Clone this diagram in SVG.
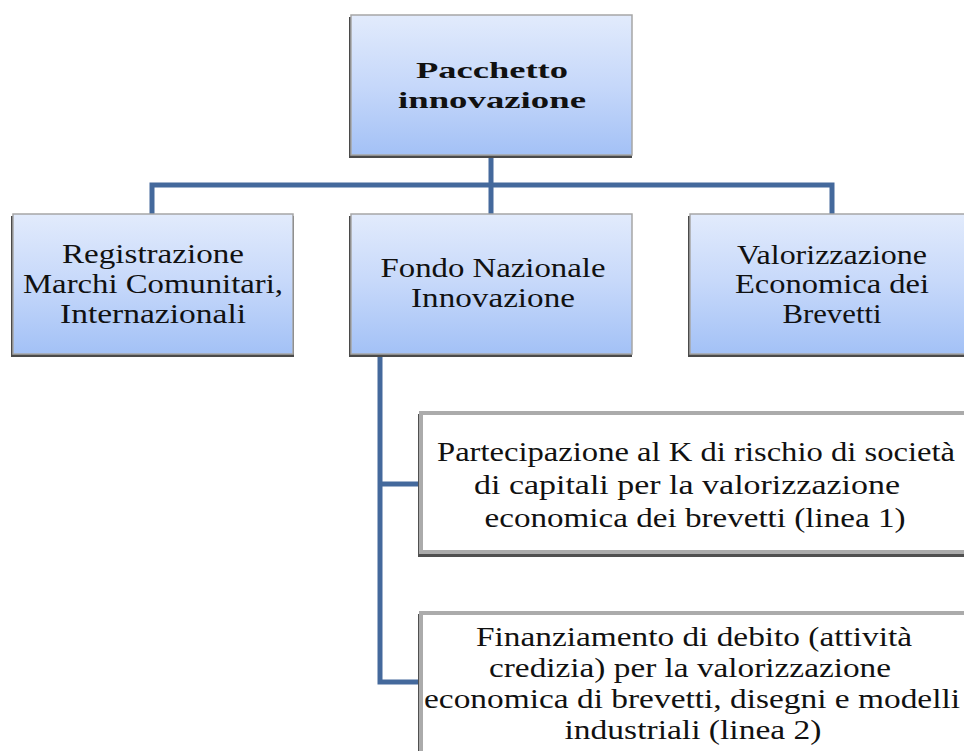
<svg xmlns="http://www.w3.org/2000/svg" width="964" height="751" viewBox="0 0 964 751">
<defs>
<linearGradient id="g" x1="0" y1="0" x2="0" y2="1">
<stop offset="0" stop-color="#e2ebfc"/>
<stop offset="0.5" stop-color="#c6d8fa"/>
<stop offset="1" stop-color="#a3c1f6"/>
</linearGradient>
</defs>
<style>
.sh{fill:#4a4a4a}
.bx{fill:url(#g);stroke:#a6a6a6;stroke-width:1.5}
.wb{fill:#fff;stroke:#ababab;stroke-width:4}
.ws{fill:#505050}
.t{font-family:"Liberation Serif","DejaVu Serif",serif;font-size:28px;fill:#111;text-anchor:middle}
.tb{font-family:"Liberation Serif","DejaVu Serif",serif;font-size:24px;font-weight:bold;fill:#111;text-anchor:middle}
.c{fill:none;stroke:#44699c;stroke-width:5}
</style>
<g id="connectors">
<path class="c" d="M491 155 V185 M152 214 V185 H832 V214 M491 185 V214"/>
<path class="c" d="M380 354 V682 H420 M380 484 H420"/>
</g>
<g id="n-top">
<rect class="sh" x="349" y="17" width="283" height="141"/>
<rect class="bx" x="351" y="15" width="281" height="140"/>
<text class="tb" x="492" y="78" textLength="152" lengthAdjust="spacingAndGlyphs">Pacchetto</text>
<text class="tb" x="492" y="108" textLength="188" lengthAdjust="spacingAndGlyphs">innovazione</text>
</g>
<g id="n-registrazione">
<rect class="sh" x="11" y="216" width="283" height="141"/>
<rect class="bx" x="13" y="214" width="280" height="140"/>
<text class="t" x="153" y="263" textLength="182" lengthAdjust="spacingAndGlyphs">Registrazione</text>
<text class="t" x="153" y="293" textLength="260" lengthAdjust="spacingAndGlyphs">Marchi Comunitari,</text>
<text class="t" x="153" y="323" textLength="186" lengthAdjust="spacingAndGlyphs">Internazionali</text>
</g>
<g id="n-fondo">
<rect class="sh" x="349" y="216" width="283" height="141"/>
<rect class="bx" x="351" y="214" width="281" height="140"/>
<text class="t" x="493" y="277" textLength="225" lengthAdjust="spacingAndGlyphs">Fondo Nazionale</text>
<text class="t" x="493" y="307" textLength="164" lengthAdjust="spacingAndGlyphs">Innovazione</text>
</g>
<g id="n-valorizzazione">
<rect class="sh" x="688" y="216" width="283" height="141"/>
<rect class="bx" x="690" y="214" width="282" height="140"/>
<text class="t" x="832" y="264" textLength="190" lengthAdjust="spacingAndGlyphs">Valorizzazione</text>
<text class="t" x="832" y="293" textLength="194" lengthAdjust="spacingAndGlyphs">Economica dei</text>
<text class="t" x="832" y="323" textLength="99" lengthAdjust="spacingAndGlyphs">Brevetti</text>
</g>
<g id="n-linea1">
<rect class="ws" x="418" y="414" width="560" height="143"/>
<rect class="wb" x="421" y="413" width="560" height="139"/>
<text class="t" x="696" y="461" textLength="518" lengthAdjust="spacingAndGlyphs">Partecipazione al K di rischio di società</text>
<text class="t" x="687" y="494" textLength="426" lengthAdjust="spacingAndGlyphs">di capitali per la valorizzazione</text>
<text class="t" x="695" y="527" textLength="421" lengthAdjust="spacingAndGlyphs">economica dei brevetti (linea 1)</text>
</g>
<g id="n-linea2">
<rect class="ws" x="418" y="614" width="560" height="150"/>
<rect class="wb" x="421" y="613" width="560" height="150"/>
<text class="t" x="694" y="646" textLength="436" lengthAdjust="spacingAndGlyphs">Finanziamento di debito (attività</text>
<text class="t" x="690" y="677" textLength="402" lengthAdjust="spacingAndGlyphs">credizia) per la valorizzazione</text>
<text class="t" x="692" y="708" textLength="536" lengthAdjust="spacingAndGlyphs">economica di brevetti, disegni e modelli</text>
<text class="t" x="693" y="739" textLength="257" lengthAdjust="spacingAndGlyphs">industriali (linea 2)</text>
</g>
</svg>
